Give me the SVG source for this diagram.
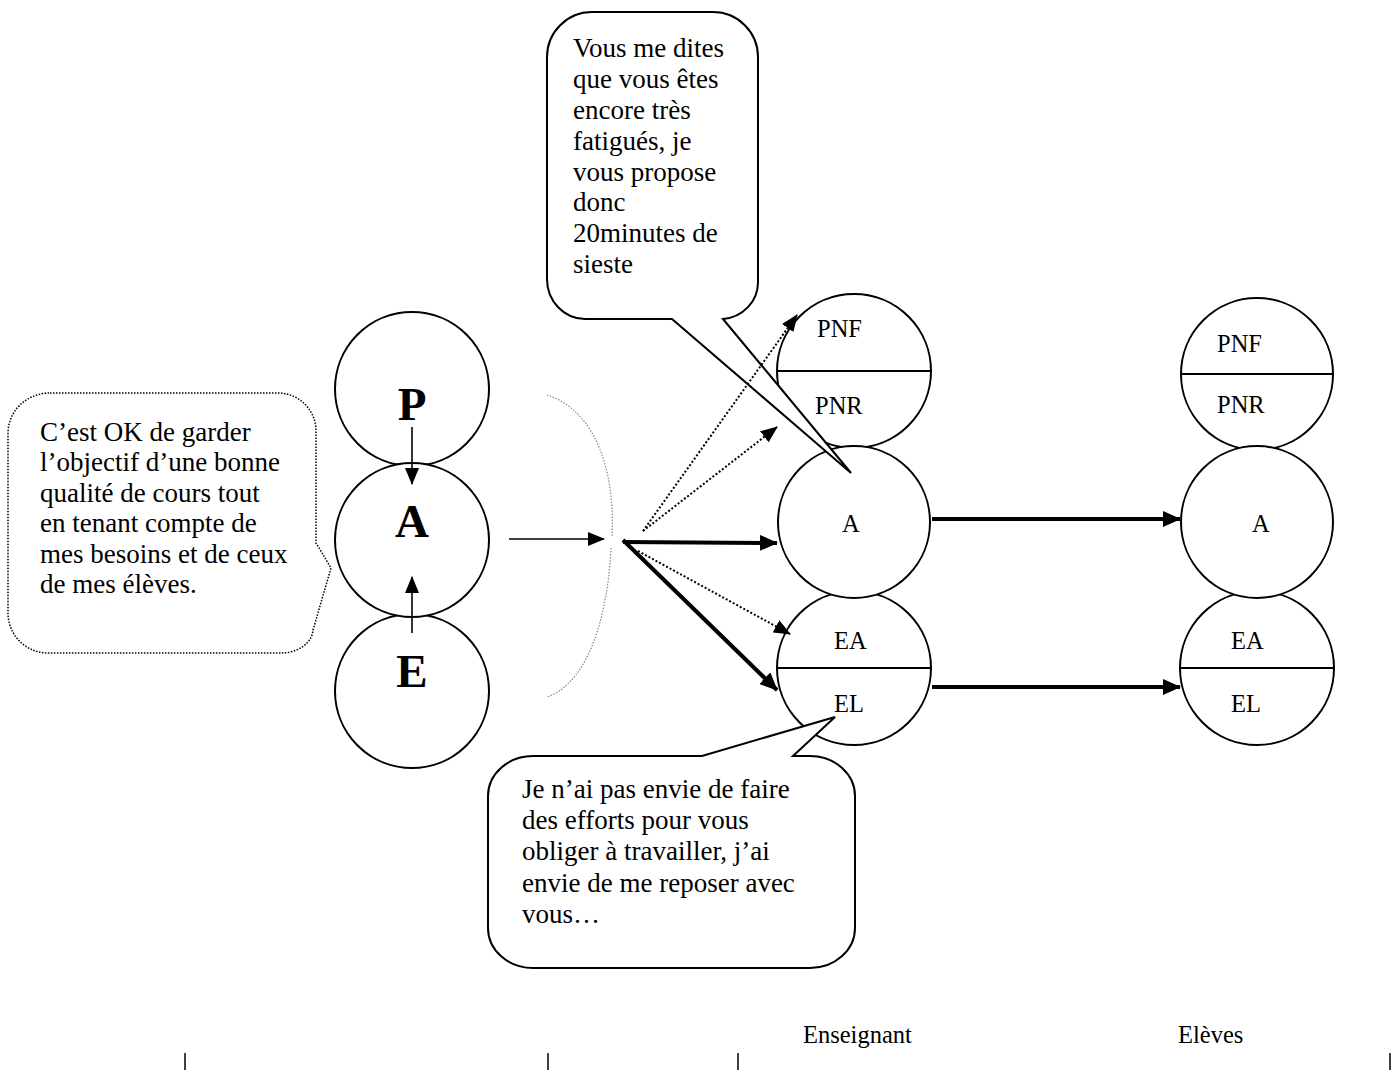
<svg xmlns="http://www.w3.org/2000/svg" width="1397" height="1070" viewBox="0 0 1397 1070">
<style>
.c{fill:#fff;stroke:#000;stroke-width:2}
.dv{stroke:#000;stroke-width:2}
.lbl{font-family:"Liberation Serif","Times New Roman",serif;font-size:24.5px;fill:#000}
.big{font-family:"Liberation Serif","Times New Roman",serif;font-size:47px;font-weight:bold;fill:#000}
.txt{font-family:"Liberation Serif","Times New Roman",serif;font-size:27px;fill:#000}
.bub{fill:#fff;stroke:#000;stroke-width:2;stroke-linejoin:miter}
.thin{stroke:#000;stroke-width:1.6;fill:none}
.thick{stroke:#000;stroke-width:4;fill:none}
.dot{stroke:#000;stroke-width:2;stroke-dasharray:2 2;fill:none}
</style>
<defs>
<marker id="ah" markerUnits="userSpaceOnUse" markerWidth="17" markerHeight="14" refX="16" refY="7" orient="auto"><path d="M0,0 L17,7 L0,14 Z" fill="#000"/></marker>
<marker id="ahb" markerUnits="userSpaceOnUse" markerWidth="18" markerHeight="16" refX="17" refY="8" orient="auto"><path d="M0,0 L18,8 L0,16 Z" fill="#000"/></marker>
</defs>

<g id="node-P"><circle class="c" cx="412" cy="389" r="77"/><text class="big" x="412" y="420" text-anchor="middle">P</text></g>
<g id="node-E"><circle class="c" cx="412" cy="691" r="77"/><text class="big" x="412" y="687" text-anchor="middle">E</text></g>
<g id="node-A"><circle class="c" cx="412" cy="540" r="77"/><text class="big" x="412" y="537" text-anchor="middle">A</text></g>

<g id="bracket"><path d="M547,395 C600,412 615,480 612,536 M611,548 C608,612 590,682 547,697" fill="none" stroke="#888" stroke-width="1.2" stroke-dasharray="1.5 1.5"/></g>

<g id="node-T-P"><circle class="c" cx="854" cy="371" r="77"/><line class="dv" x1="777" y1="371" x2="931" y2="371"/><text class="lbl" x="817" y="337">PNF</text><text class="lbl" x="815" y="414">PNR</text></g>
<g id="node-T-E"><circle class="c" cx="854" cy="668" r="77"/><line class="dv" x1="777" y1="668" x2="931" y2="668"/><text class="lbl" x="834" y="649">EA</text><text class="lbl" x="834" y="712">EL</text></g>
<g id="node-T-A"><circle class="c" cx="854" cy="522" r="76"/><text class="lbl" x="842" y="532">A</text></g>

<g id="node-S-P"><circle class="c" cx="1257" cy="374" r="76"/><line class="dv" x1="1181" y1="374" x2="1333" y2="374"/><text class="lbl" x="1217" y="352">PNF</text><text class="lbl" x="1217" y="413">PNR</text></g>
<g id="node-S-E"><circle class="c" cx="1257" cy="668" r="77"/><line class="dv" x1="1180" y1="668" x2="1334" y2="668"/><text class="lbl" x="1231" y="649">EA</text><text class="lbl" x="1231" y="712">EL</text></g>
<g id="node-S-A"><circle class="c" cx="1257" cy="522" r="76"/><text class="lbl" x="1252" y="532">A</text></g>

<g id="bubble-top">
<path class="bub" d="M592,12 H713 A45,45 0 0 1 758,57 V282 A38,37 0 0 1 723,319 L851,473 L672,319 H585 A38,40 0 0 1 547,279 V57 A45,45 0 0 1 592,12 Z"/>
<text class="txt"><tspan x="573" y="57">Vous me dites</tspan><tspan x="573" y="88">que vous êtes</tspan><tspan x="573" y="119">encore très</tspan><tspan x="573" y="150">fatigués, je</tspan><tspan x="573" y="181">vous propose</tspan><tspan x="573" y="211">donc</tspan><tspan x="573" y="242">20minutes de</tspan><tspan x="573" y="273">sieste</tspan></text>
</g>

<g id="bubble-left">
<path d="M50,393 H278 A38,38 0 0 1 316,431 V543 L331,568 L313,630 A32,24 0 0 1 281,653 H48 A40,40 0 0 1 8,613 V433 A42,40 0 0 1 50,393 Z" fill="#fff" stroke="#000" stroke-width="1.5" stroke-dasharray="1.5 1.5"/>
<text class="txt"><tspan x="40" y="441">C’est OK de garder</tspan><tspan x="40" y="471">l’objectif d’une bonne</tspan><tspan x="40" y="502">qualité de cours tout</tspan><tspan x="40" y="532">en tenant compte de</tspan><tspan x="40" y="563">mes besoins et de ceux</tspan><tspan x="40" y="593">de mes élèves.</tspan></text>
</g>

<g id="bubble-bottom">
<path class="bub" d="M533,756 H702 L835,717 L793,756 H810 A45,40 0 0 1 855,796 V928 A45,40 0 0 1 810,968 H533 A45,40 0 0 1 488,928 V796 A45,40 0 0 1 533,756 Z"/>
<text class="txt"><tspan x="522" y="798">Je n’ai pas envie de faire</tspan><tspan x="522" y="829">des efforts pour vous</tspan><tspan x="522" y="860">obliger à travailler, j’ai</tspan><tspan x="522" y="892">envie de me reposer avec</tspan><tspan x="522" y="923">vous…</tspan></text>
</g>

<g id="connectors">
<line class="thin" x1="412" y1="427" x2="412" y2="484" marker-end="url(#ah)"/>
<line class="thin" x1="412" y1="633" x2="412" y2="577" marker-end="url(#ah)"/>
<line class="thin" x1="509" y1="539" x2="604" y2="539" marker-end="url(#ah)"/>
<line class="thick" x1="623" y1="542" x2="777" y2="543" marker-end="url(#ahb)"/>
<line class="thick" x1="623" y1="540" x2="777" y2="690" marker-end="url(#ahb)"/>
<line class="dot" x1="638" y1="551" x2="790" y2="634" marker-end="url(#ah)"/>
<line class="dot" x1="643" y1="531" x2="777" y2="427" marker-end="url(#ah)"/>
<line class="dot" x1="643" y1="531" x2="797" y2="315" marker-end="url(#ah)"/>
<line class="thick" x1="932" y1="519" x2="1180" y2="519" marker-end="url(#ahb)"/>
<line class="thick" x1="932" y1="687" x2="1180" y2="687" marker-end="url(#ahb)"/>
</g>

<g id="footer">
<text class="lbl" x="803" y="1043">Enseignant</text>
<text class="lbl" x="1178" y="1043">Elèves</text>
<g stroke="#000" stroke-width="1.5"><line x1="185" y1="1053" x2="185" y2="1070"/><line x1="548" y1="1053" x2="548" y2="1070"/><line x1="738" y1="1053" x2="738" y2="1070"/><line x1="1390" y1="1053" x2="1390" y2="1070"/></g>
</g>
</svg>
